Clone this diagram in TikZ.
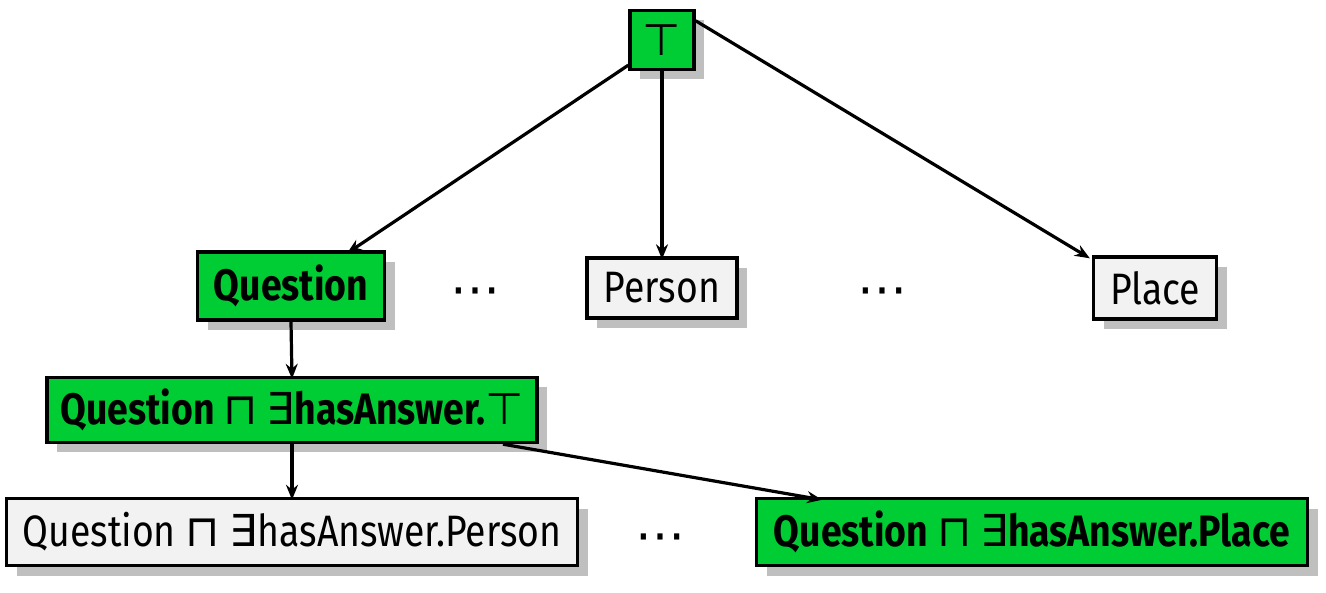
\documentclass[tikz,border=0pt]{standalone}
\usepackage{fontspec}
\setmainfont{Fira Sans}[FakeStretch=0.85]
\newfontfamily\symf{DejaVu Sans}
\newcommand{\sy}[1]{{\symf\mdseries #1}}
\usetikzlibrary{shadows,arrows.meta}
\definecolor{boxgreen}{RGB}{0,204,51}
\definecolor{boxgray}{RGB}{242,242,242}
\begin{document}
\begin{tikzpicture}[x=1pt,y=-1pt,
  box/.style={draw=black, line width=3.4pt, inner sep=0pt, font=\fontsize{44}{48}\selectfont,
    drop shadow={shadow xshift=10pt, shadow yshift=-10pt, fill=black!25, opacity=1}},
  sel/.style={box, fill=boxgreen, font=\fontsize{44}{48}\selectfont\bfseries},
  plain/.style={box, fill=boxgray},
  arr/.style={line width=3.2pt, -{Stealth[length=15pt,width=12pt]}},
  dots/.style={font=\fontsize{50}{54}\selectfont\bfseries}]
\useasboundingbox (0,0) rectangle (1326,593);
\node[sel, minimum width=64pt, minimum height=59pt] (top) at (662,40) {\sy{⊤}};
\node[sel, minimum width=187pt, minimum height=68pt] (q) at (291,286) {Question};
\node[plain, minimum width=150pt, minimum height=60pt] (person) at (662,288) {Person};
\node[plain, minimum width=123pt, minimum height=62pt] (place) at (1155,288) {Place};
\node[sel, minimum width=490pt, minimum height=65pt] (qt) at (292,410) {Question \sy{⊓} \sy{∃}hasAnswer.\sy{⊤}};
\node[plain, minimum width=571pt, minimum height=67pt] (qperson) at (292,532) {Question \sy{⊓} \sy{∃}hasAnswer.Person};
\node[sel, minimum width=551pt, minimum height=67pt] (qplace) at (1032,532) {Question \sy{⊓} \sy{∃}hasAnswer.Place};
\node[dots] (d1) at (475,297) {\sy{⋯}};
\node[dots] (d2) at (882,297) {\sy{⋯}};
\node[dots] (d3) at (660,543) {\sy{⋯}};
\coordinate (t1) at ([yshift=6pt]top.south west);
\coordinate (t2) at ([yshift=-12pt]top.north east);
\draw[arr] (t1) -- ([xshift=56pt,yshift=-3pt]q.north);
\draw[arr] (top.south) -- ([yshift=-3pt]person.north);
\draw[arr] (t2) -- ([xshift=-2pt,yshift=-3pt]place.north west);
\draw[arr] (q.south) -- ([yshift=-3pt]qt.north);
\draw[arr] (qt.south) -- ([yshift=-3pt]qperson.north);
\draw[arr] ([xshift=211pt]qt.south) -- ([xshift=-210pt,yshift=-3pt]qplace.north);
\end{tikzpicture}
\end{document}
